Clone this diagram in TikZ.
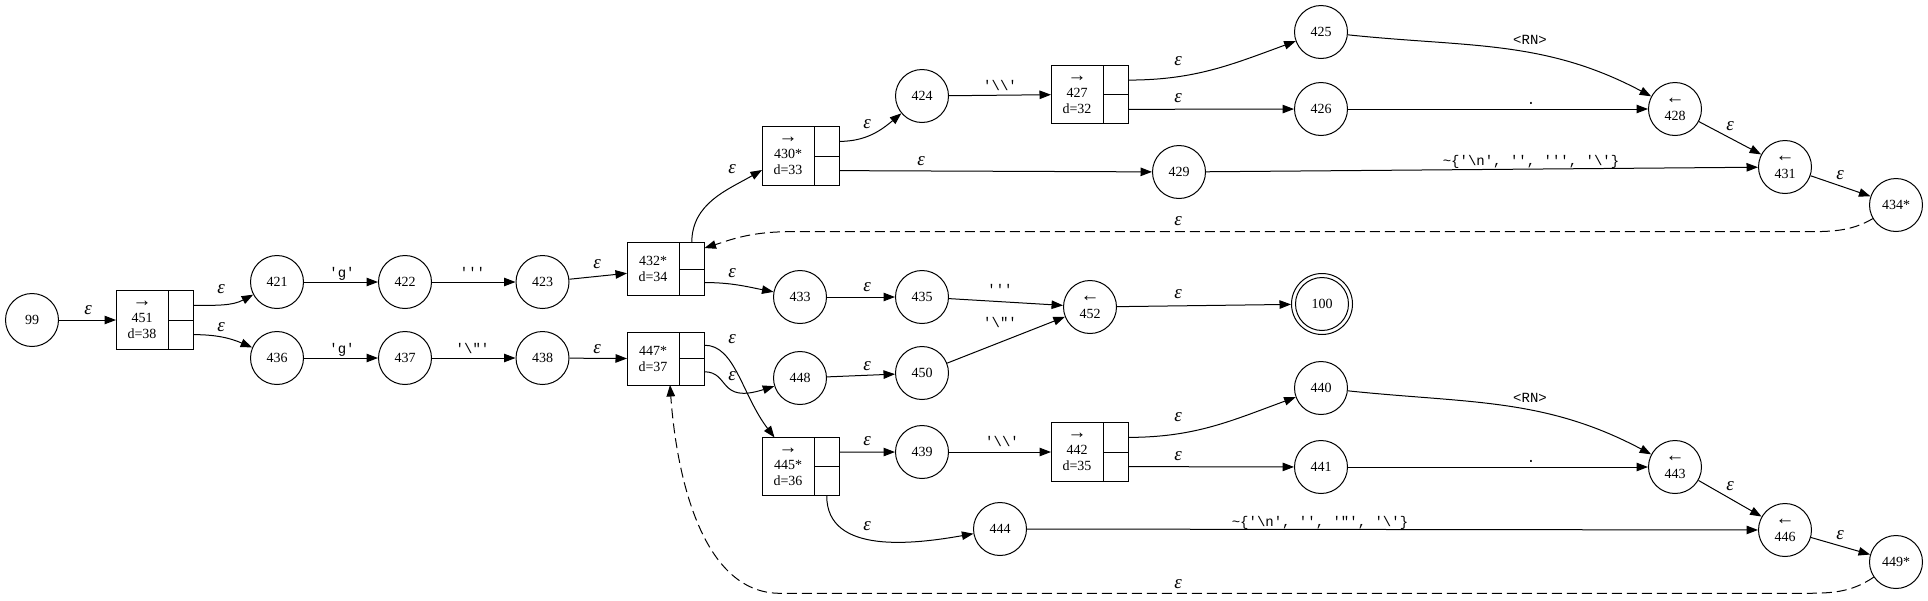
\documentclass[tikz,border=0pt]{standalone}
\usepackage{fontspec}
\setmainfont{Liberation Serif}
\setmonofont{Liberation Mono}
\usetikzlibrary{arrows.meta}
\newcommand{\eps}{{\fontsize{19}{17}\selectfont\itshape ε}}
\newcommand{\ra}{{\fontsize{19}{16}\selectfont →}}
\newcommand{\la}{{\fontsize{19}{17}\selectfont ←}}
\begin{document}
\begin{tikzpicture}[x=1pt,y=-1pt,
  every node/.style={font=\fontsize{14}{17}\selectfont},
  st/.style={circle,draw,line width=1pt,minimum size=53pt,inner sep=0pt,align=center},
  recl/.style={rectangle,draw,line width=1pt,outer sep=0pt,minimum width=52pt,inner sep=0pt,align=center,anchor=west,font=\fontsize{14}{16}\selectfont},
  port/.style={rectangle,draw,line width=1pt,outer sep=0pt,minimum width=25.5pt,inner sep=0pt},
  lab/.style={anchor=base,inner sep=0pt},
  labm/.style={anchor=base,inner sep=0pt,font=\fontsize{14}{16}\ttfamily},
  ed/.style={draw,line width=1pt,-{Triangle[length=11.5pt,width=8.5pt]}},
  dsh/.style={ed,dash pattern=on 10pt off 5pt},
]
\useasboundingbox (0,0) rectangle (1928,600);

% ---- circle states
\node[st] (n99) at (32,320) {99};
\node[st] (n421) at (277,282) {421};
\node[st] (n422) at (405,282) {422};
\node[st] (n423) at (542.5,282) {423};
\node[st] (n436) at (277,358) {436};
\node[st] (n437) at (405,358) {437};
\node[st] (n438) at (542.5,358) {438};
\node[st] (n424) at (922,96) {424};
\node[st] (n425) at (1321,32) {425};
\node[st] (n426) at (1321,109) {426};
\node[st] (n428) at (1675,109) {\la\\428};
\node[st] (n429) at (1179,172) {429};
\node[st] (n431) at (1785,167) {\la\\431};
\node[st] (n434) at (1896,205) {434*};
\node[st] (n433) at (800,297) {433};
\node[st] (n435) at (922,297) {435};
\node[st] (n452) at (1090,307) {\la\\452};
\node[st] (n100) at (1322,304) {100};
\node[circle,draw,line width=1pt,minimum size=61pt,inner sep=0pt] (n100o) at (n100) {};
\node[st] (n448) at (800,378) {448};
\node[st] (n450) at (922,373) {450};
\node[st] (n439) at (922,452) {439};
\node[st] (n440) at (1321,388) {440};
\node[st] (n441) at (1321,467) {441};
\node[st] (n443) at (1675,467) {\la\\443};
\node[st] (n444) at (1000,529) {444};
\node[st] (n446) at (1785,530) {\la\\446};
\node[st] (n449) at (1896,562) {449*};

% ---- record states
\node[recl,minimum height=58.5pt] (b451) at (116,320) {\ra\\451\\d=38};
\node[port,minimum height=29.25pt,anchor=south west] (b451u) at (b451.east) {};
\node[port,minimum height=29.25pt,anchor=north west] (b451l) at (b451.east) {};

\node[recl,minimum height=53pt] (b432) at (627,269.3) {432*\\d=34};
\node[port,minimum height=26.5pt,anchor=south west] (b432u) at (b432.east) {};
\node[port,minimum height=26.5pt,anchor=north west] (b432l) at (b432.east) {};

\node[recl,minimum height=53pt] (b447) at (627,358.5) {447*\\d=37};
\node[port,minimum height=26.5pt,anchor=south west] (b447u) at (b447.east) {};
\node[port,minimum height=26.5pt,anchor=north west] (b447l) at (b447.east) {};

\node[recl,minimum height=58.5pt] (b430) at (762,156) {\ra\\430*\\d=33};
\node[port,minimum height=29.25pt,anchor=south west] (b430u) at (b430.east) {};
\node[port,minimum height=29.25pt,anchor=north west] (b430l) at (b430.east) {};

\node[recl,minimum height=58.5pt] (b445) at (762,466.7) {\ra\\445*\\d=36};
\node[port,minimum height=29.25pt,anchor=south west] (b445u) at (b445.east) {};
\node[port,minimum height=29.25pt,anchor=north west] (b445l) at (b445.east) {};

\node[recl,minimum height=58.5pt] (b427) at (1051,94.7) {\ra\\427\\d=32};
\node[port,minimum height=29.25pt,anchor=south west] (b427u) at (b427.east) {};
\node[port,minimum height=29.25pt,anchor=north west] (b427l) at (b427.east) {};

\node[recl,minimum height=58.5pt] (b442) at (1051,452) {\ra\\442\\d=35};
\node[port,minimum height=29.25pt,anchor=south west] (b442u) at (b442.east) {};
\node[port,minimum height=29.25pt,anchor=north west] (b442l) at (b442.east) {};

% ---- edges
\draw[ed] (n99) -- (b451.west);
\draw[ed] (b451u.east) to[out=0,in=208] (n421);
\draw[ed] (b451l.east) to[out=0,in=157] (n436);
\draw[ed] (n421) -- (n422);
\draw[ed] (n422) -- (n423);
\draw[ed] (n436) -- (n437);
\draw[ed] (n437) -- (n438);
\draw[ed] (n423) -- ([yshift=-4pt]b432.west);
\draw[ed] (n438) -- (b447.west);

\draw[ed] (b432u.north) to[out=90,in=210] ([yshift=-14pt]b430.west);
\draw[ed] (b432l.east) to[out=0,in=169] (n433);
\draw[ed] (b430u.east) to[out=0,in=220] (n424);
\draw[ed] (b430l.east) -- (n429);
\draw[ed] (n424) -- (b427.west);
\draw[ed] (b427u.east) to[out=0,in=200] (n425);
\draw[ed] (b427l.east) -- (n426);
\draw[ed] (n425) to[out=-6,in=152] (n428);
\draw[ed] (n426) -- (n428);
\draw[ed] (n428) -- (n431);
\draw[ed] (n429) -- (n431);
\draw[ed] (n431) -- (n434);
\draw[dsh] (n434) .. controls (1850,232) and (1830,231.7) .. (1800,231.7) -- (790,231.7)
   .. controls (750,231.7) and (730,240) .. ([yshift=8pt]b432u.east);

\draw[ed] (n433) -- (n435);
\draw[ed] (n435) -- (n452);
\draw[ed] (n450) -- (n452);
\draw[ed] (n452) -- (n100o);

\draw[ed] (b447u.east) .. controls (735,345) and (742,395) .. ([xshift=-13.5pt]b445.north);
\draw[ed] (b447l.east) .. controls (730,372) and (718,404) .. (n448);
\draw[ed] (n448) -- (n450);
\draw[ed] (b445u.east) -- (n439);
\draw[ed] (n439) -- (b442.west);
\draw[ed] (b442u.east) to[out=0,in=200] (n440);
\draw[ed] (b442l.east) -- (n441);
\draw[ed] (n440) to[out=-6,in=152] (n443);
\draw[ed] (n441) -- (n443);
\draw[ed] (n443) -- (n446);
\draw[ed] (b445l.south) to[out=-90,in=190] (n444);
\draw[ed] (n444) -- (n446);
\draw[ed] (n446) -- (n449);
\draw[dsh] (n449) .. controls (1850,593.3) and (1830,593.3) .. (1800,593.3) -- (780,593.3)
   .. controls (700,593.3) and (676,470) .. ([xshift=17pt]b447.south);

% ---- edge labels
\node[lab] (l1) at (88,314.5) {\eps};
\node[lab] (l2) at (221,293.5) {\eps};
\node[lab] (l3) at (221,331.5) {\eps};
\node[labm] (l4) at (342,277) {'g'};
\node[labm] (l5) at (472.5,277) {'''};
\node[labm] (l6) at (342,353) {'g'};
\node[labm] (l7) at (472.5,353) {'\textbackslash"'};
\node[lab] (l8) at (597,268.5) {\eps};
\node[lab] (l9) at (597,353.5) {\eps};
\node[lab] (l10) at (732,173.5) {\eps};
\node[lab] (l11) at (867,128.5) {\eps};
\node[labm] (l12) at (1000,90.5) {'\textbackslash\textbackslash'};
\node[lab] (l13) at (1178,65.5) {\eps};
\node[lab] (l14) at (1178,102.5) {\eps};
\node[lab] (l15) at (921,165.5) {\eps};
\node[labm] (l16) at (1530,44) {<RN>};
\node[labm] (l17) at (1531,104) {.};
\node[labm] (l18) at (1531,165.5) {\textasciitilde\{'\textbackslash n', '', ''', '\textbackslash'\}};
\node[lab] (l19) at (1730,130.5) {\eps};
\node[lab] (l20) at (1840,179.5) {\eps};
\node[lab] (l21) at (1178,225.5) {\eps};
\node[lab] (l22) at (732,277.5) {\eps};
\node[lab] (l23) at (867,291.5) {\eps};
\node[labm] (l24) at (1000,294.5) {'''};
\node[labm] (l25) at (1000,327) {'\textbackslash"'};
\node[lab] (l26) at (1178,298.5) {\eps};
\node[lab] (l27) at (732,343.5) {\eps};
\node[lab] (l28) at (732,380.5) {\eps};
\node[lab] (l29) at (867,370.5) {\eps};
\node[lab] (l30) at (867,445.5) {\eps};
\node[labm] (l31) at (1002,446) {'\textbackslash\textbackslash'};
\node[lab] (l32) at (1178,421.5) {\eps};
\node[lab] (l33) at (1178,460.5) {\eps};
\node[labm] (l34) at (1530,402) {<RN>};
\node[labm] (l35) at (1531,462) {.};
\node[labm] (l36) at (1320,526) {\textasciitilde\{'\textbackslash n', '', '"', '\textbackslash'\}};
\node[lab] (l37) at (867,530.5) {\eps};
\node[lab] (l38) at (1730,490.5) {\eps};
\node[lab] (l39) at (1840,539.5) {\eps};
\node[lab] (l40) at (1178,588.5) {\eps};
\end{tikzpicture}
\end{document}
